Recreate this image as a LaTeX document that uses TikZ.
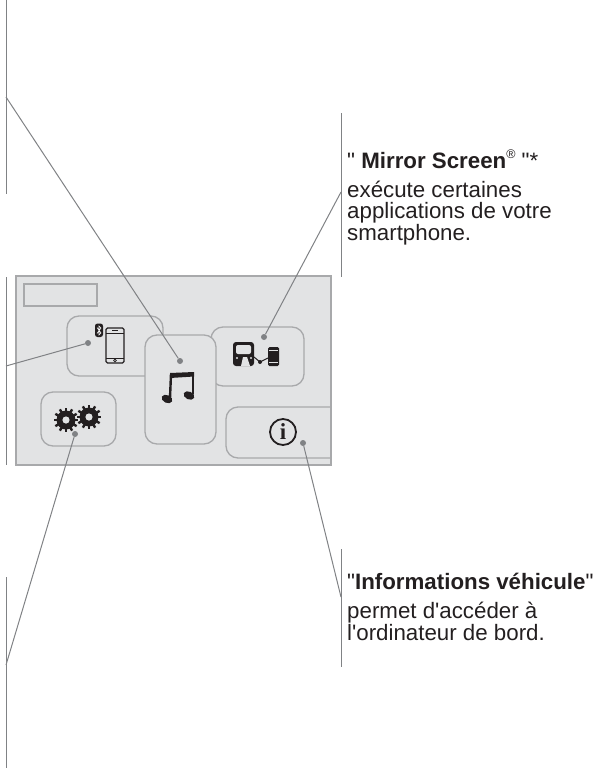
\documentclass[tikz,border=0pt]{standalone}
\usepackage{fontspec}
\newfontfamily\capfont{Liberation Sans}
\newfontfamily\infofont{Liberation Serif}
\definecolor{panel}{HTML}{E2E3E4}
\definecolor{edgeg}{HTML}{A8A9AB}
\definecolor{leader}{HTML}{808285}
\definecolor{ink}{HTML}{231F20}
\tikzset{
 x=1pt,y=-1pt,
 tile/.style={draw=edgeg,line width=1.3pt,fill=panel,rounded corners=12pt},
 rule/.style={draw=leader,line width=1pt},
 leaderline/.style={draw=leader,line width=1pt},
 dotm/.style={circle,fill=leader,inner sep=0pt,minimum size=6pt},
 caption/.style={anchor=base west,inner sep=0pt,text=ink,font=\capfont\fontsize{22.3}{22}\selectfont},
}
\begin{document}
\begin{tikzpicture}
\useasboundingbox (0,0) rectangle (595,768);
% panel
\path[fill=panel,draw=edgeg,line width=1.5pt] (16,276) rectangle (331,465);
\path[draw=edgeg,line width=1.3pt] (24,284) rectangle (97,306);
% tiles
\path[tile] (67,316) rectangle (163,376);
\path[tile] (211,327) rectangle (304,386);
\path[tile] (41,392) rectangle (116,446);
\path[tile] (145,335) rectangle (216,444);
\draw[edgeg,line width=1.3pt,rounded corners=12pt] (331,407) -- (226,407) -- (226,458) -- (331,458);
% phone icon
\draw[ink,line width=1.2pt,rounded corners=1.5pt] (106,328) rectangle (124,363);
\draw[ink,line width=0.8pt] (106,333) -- (124,333) (106,358) -- (124,358);
\draw[ink,line width=0.8pt] (112,330.5) -- (118,330.5);
\draw[ink,line width=0.7pt] (115,360.5) circle[radius=1.4];
\fill[ink,rounded corners=2.5pt] (95,323.5) rectangle (103,337);
\draw[white,line width=0.6pt] (97,327.5) -- (101,333) -- (99,335) -- (99,326) -- (101,328) -- (97,333.5);
% music
\fill[ink] (170,373) -- (194,372) -- (194,376.5) -- (170,378) -- cycle;
\draw[ink,line width=2.4pt] (171,374) -- (170,398);
\draw[ink,line width=2.4pt] (193,373) -- (193,394);
\fill[ink,rotate around={-25:(167,399)}] (167,399) ellipse[x radius=5.6,y radius=3.9];
\fill[ink,rotate around={-25:(189,395.5)}] (189,395.5) ellipse[x radius=5.6,y radius=3.9];
% mirror icon
\fill[ink,rounded corners=3pt] (233,342) rectangle (254,366);
\fill[panel,rounded corners=2pt] (236,345) rectangle (251,354);
\fill[panel] (241,366) -- (243,357) -- (247,357) -- (250,366) -- cycle;
\fill[panel] (237,358) circle[radius=1.2] (251,358) circle[radius=1.2];
\draw[ink,line width=1pt] (254,357) -- (260,362) -- (268,358);
\fill[ink] (260,362) circle[radius=2];
\fill[ink,rounded corners=1.5pt] (268,347) rectangle (279,366);
\draw[panel,line width=0.5pt] (269,350) -- (278,350) (269,362) -- (278,362);
% gears
\foreach \cx/\cy/\r in {66/420/9.5,89/417/9.5}{
 \fill[ink] (\cx,\cy) circle[radius=\r];
 \foreach \a in {0,30,...,330}{
  \draw[ink,line width=2.4pt] (\cx,\cy) -- ++(\a:\r+2.8);
 }
 \fill[panel] (\cx,\cy) circle[radius=3.6];
}
% info icon
\draw[ink,line width=1.8pt] (283,432) circle[radius=13];
\node[inner sep=0pt,text=ink,font=\infofont\fontsize{23}{23}\selectfont\bfseries] (infoi) at (283,432) {i};
% anchors
\node[dotm] (dmusic) at (180,361) {};
\node[dotm] (dphone) at (88,343) {};
\node[dotm] (dmirror) at (264,337) {};
\node[dotm] (dgear) at (75,434) {};
\node[dotm] (dinfo) at (303,443) {};
\coordinate (emusic) at (6,97);
\coordinate (ephone) at (6,366);
\coordinate (emirror) at (341,192);
\coordinate (egear) at (6,665);
\coordinate (einfo) at (341,597);
\draw[leaderline] (emusic) -- (dmusic);
\draw[leaderline] (ephone) -- (dphone);
\draw[leaderline] (emirror) -- (dmirror);
\draw[leaderline] (egear) -- (dgear);
\draw[leaderline] (einfo) -- (dinfo);
% rules
\coordinate (a1) at (6,0); \coordinate (a2) at (6,194);
\coordinate (b1) at (6,277); \coordinate (b2) at (6,465);
\coordinate (c1) at (6,577); \coordinate (c2) at (6,768);
\coordinate (d1) at (341,113); \coordinate (d2) at (341,277);
\coordinate (e1) at (341,549); \coordinate (e2) at (341,667);
\draw[rule] (a1) -- (a2);
\draw[rule] (b1) -- (b2);
\draw[rule] (c1) -- (c2);
\draw[rule] (d1) -- (d2);
\draw[rule] (e1) -- (e2);
% captions
\node[caption] (t1) at (347,168) {" \textbf{Mirror Screen}\raisebox{0.42em}{\fontsize{12.5}{12.5}\selectfont ®} "*};
\node[caption] (t2) at (347,197) {exécute certaines};
\node[caption] (t3) at (347,218.5) {applications de votre};
\node[caption] (t4) at (347,240.5) {smartphone.};
\node[caption] (t5) at (347,589) {"\textbf{Informations véhicule}"};
\node[caption] (t6) at (347,618) {permet d'accéder à};
\node[caption] (t7) at (347,640) {l'ordinateur de bord.};
\end{tikzpicture}
\end{document}
